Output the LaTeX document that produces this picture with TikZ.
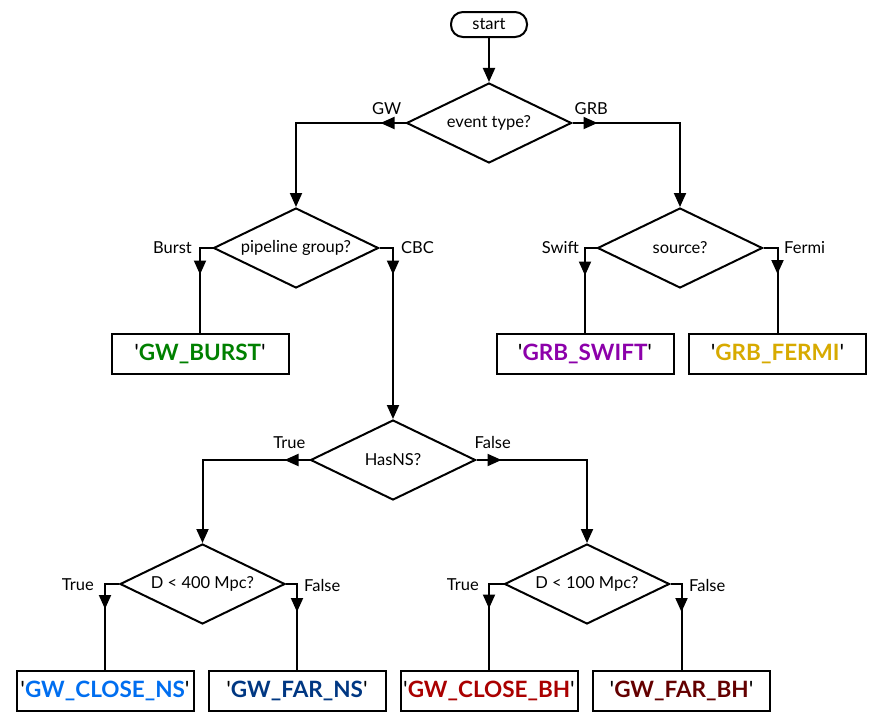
\documentclass[tikz,border=0pt]{standalone}
\usepackage{fontspec}
\setmainfont{Lato}
\usetikzlibrary{shapes.geometric,arrows.meta,decorations.markings}
\definecolor{cburst}{RGB}{0,128,0}
\definecolor{cswift}{RGB}{140,0,170}
\definecolor{cfermi}{RGB}{215,170,0}
\definecolor{ccns}{RGB}{0,110,240}
\definecolor{cfns}{RGB}{0,55,130}
\definecolor{ccbh}{RGB}{170,0,0}
\definecolor{cfbh}{RGB}{100,0,0}
\tikzset{
  tri/.tip={Triangle[length=14pt,width=12pt]},
  conn/.style={line width=2pt,-{tri}},
  plainconn/.style={line width=2pt},
  midtip/.style={postaction={decorate},decoration={markings,mark=at position #1 with {\arrow{tri}}}},
  startbox/.style={draw,line width=2pt,rounded corners=12pt,minimum width=76pt,minimum height=25pt,inner sep=0pt,font=\fontsize{16.5}{19}\selectfont},
  decision/.style={draw,line width=2pt,diamond,aspect=2,inner sep=0pt,minimum width=165pt,minimum height=80pt,font=\fontsize{16.5}{19}\selectfont},
  outbox/.style={draw,line width=2pt,minimum width=177pt,minimum height=40pt,inner sep=0pt,font=\fontsize{22.5}{26}\selectfont},
  lab/.style={inner sep=0pt,font=\fontsize{16.5}{19}\selectfont}
}
\newcommand{\outtxt}[2]{\textquotesingle\textbf{\color{#1}#2}\textquotesingle}
\begin{document}
\begin{tikzpicture}[x=1pt,y=-1pt]
\useasboundingbox (0,0) rectangle (878,728);
% nodes
\node[startbox] (start) at (489,24.5) {start};
\node[decision] (event) at (489,123) {event type?};
\node[decision] (pipe) at (296,248) {pipeline group?};
\node[decision] (source) at (680,248) {source?};
\node[decision] (hasns) at (393,460) {HasNS?};
\node[decision] (d400) at (202.5,584) {D < 400 Mpc?};
\node[decision] (d100) at (587,584) {D < 100 Mpc?};
\node[outbox] (burst) at (200,354) {\outtxt{cburst}{GW\_BURST}};
\node[outbox] (swift) at (585,354) {\outtxt{cswift}{GRB\_SWIFT}};
\node[outbox] (fermi) at (777.5,354) {\outtxt{cfermi}{GRB\_FERMI}};
\node[outbox] (cns) at (105,691) {\outtxt{ccns}{GW\_CLOSE\_NS}};
\node[outbox] (fns) at (297,691) {\outtxt{cfns}{GW\_FAR\_NS}};
\node[outbox] (cbh) at (489,691) {\outtxt{ccbh}{GW\_CLOSE\_BH}};
\node[outbox] (fbh) at (681.5,691) {\outtxt{cfbh}{GW\_FAR\_BH}};
% connectors
\draw[conn] (start) -- (event);
\draw[conn,midtip=25pt] (event.west) -| (pipe.north);
\draw[conn,midtip=25pt] (event.east) -| (source.north);
\draw[plainconn,midtip=39pt] (pipe.west) -| (burst.north);
\draw[conn,midtip=40pt] (pipe.east) -| (hasns.north);
\draw[plainconn,midtip=39pt] (source.west) -| (swift.north);
\draw[plainconn,midtip=40pt] (source.east) -| (fermi.north);
\draw[conn,midtip=25pt] (hasns.west) -| (d400.north);
\draw[conn,midtip=25pt] (hasns.east) -| (d100.north);
\draw[plainconn,midtip=39pt] (d400.west) -| (cns.north);
\draw[plainconn,midtip=39pt] (d400.east) -| (fns.north);
\draw[plainconn,midtip=39pt] (d100.west) -| (cbh.north);
\draw[plainconn,midtip=39pt] (d100.east) -| (fbh.north);
% labels
\node[lab,anchor=south east] (lgw) at ([xshift=-4pt,yshift=8pt]event.west) {GW};
\node[lab,anchor=south west] (lgrb) at ([xshift=2pt,yshift=8pt]event.east) {GRB};
\node[lab,anchor=east] (lburst) at (192,248) {Burst};
\node[lab,anchor=west] (lcbc) at (401,248) {CBC};
\node[lab,anchor=east] (lswift) at (579,248) {Swift};
\node[lab,anchor=west] (lfermi) at (784,248) {Fermi};
\node[lab,anchor=south east] (ltrue1) at ([xshift=-4pt,yshift=11pt]hasns.west) {True};
\node[lab,anchor=south west] (lfalse1) at ([xshift=-2pt,yshift=11pt]hasns.east) {False};
\node[lab,anchor=east] (ltrue2) at (94,585) {True};
\node[lab,anchor=west] (lfalse2) at (304,585) {False};
\node[lab,anchor=east] (ltrue3) at (479,585) {True};
\node[lab,anchor=west] (lfalse3) at (689,585) {False};
\end{tikzpicture}
\end{document}
